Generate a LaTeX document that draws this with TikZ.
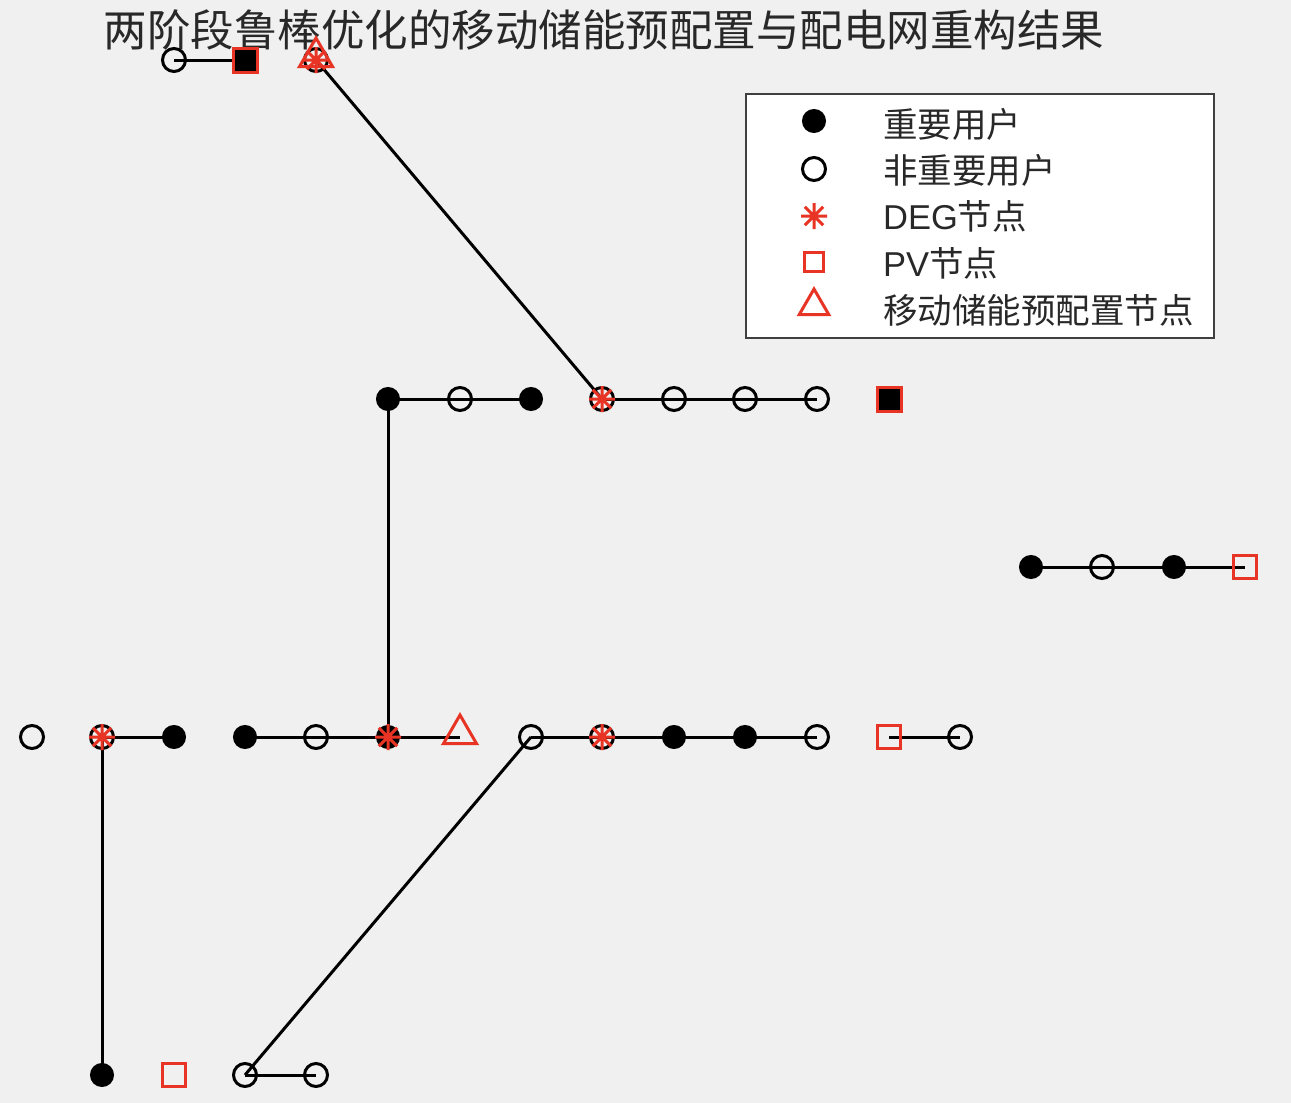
\documentclass[tikz,border=0pt]{standalone}
\usepackage{fontspec}
\setmainfont{Liberation Sans}
\newfontfamily\cjk{Noto Sans CJK SC}
\newfontfamily\lat{Liberation Sans}
\usetikzlibrary{shapes.geometric,backgrounds}
\definecolor{mred}{RGB}{232,52,36}
\definecolor{bggray}{RGB}{240,240,240}
\definecolor{txtgray}{RGB}{40,40,40}
\tikzset{
  base/.style={inner sep=0pt, outer sep=0pt, line width=3pt},
  imp/.style={base, circle, fill=black, draw=black, minimum size=21pt},
  nimp/.style={base, circle, draw=black, minimum size=23pt},
  pvbox/.style={base, rectangle, draw=mred, minimum size=23pt},
  pvfill/.style={base, rectangle, draw=mred, fill=black, minimum size=24pt},
  essbox/.style={base, regular polygon, regular polygon sides=3, draw=mred, minimum size=38pt},
  conn/.style={line width=3pt, black},
  degmark/.pic={\draw[mred, line width=3pt] (-13,0)--(13,0) (0,-13)--(0,13) (-9.2,-9.2)--(9.2,9.2) (-9.2,9.2)--(9.2,-9.2);},
  legtext/.style={anchor=west, inner sep=0pt, font=\fontsize{34.5}{34.5}\selectfont, text=txtgray}
}
\begin{document}
\begin{tikzpicture}[x=1pt,y=-1pt]
\begin{scope}[on background layer]
  \fill[bggray] (0,0) rectangle (1291,1103);
\end{scope}
\useasboundingbox (0,0) rectangle (1291,1103);

% title
\node[inner sep=0pt, text=txtgray, font=\cjk\fontsize{43.5}{43.5}\selectfont] (title) at (604,30) {两阶段鲁棒优化的移动储能预配置与配电网重构结果};

% row A
\node[nimp] (a1) at (174,60) {};
\node[pvfill] (a2) at (245,60) {};
\node[nimp] (a3) at (316,60) {};
\node[essbox] (a3e) at (316,57) {};
\pic at (a3) {degmark};

% row B
\node[imp] (b1) at (388,399) {};
\node[nimp] (b2) at (460,399) {};
\node[imp] (b3) at (531,399) {};
\node[nimp] (b4) at (602,399) {};
\pic at (b4) {degmark};
\node[nimp] (b5) at (674,399) {};
\node[nimp] (b6) at (745,399) {};
\node[nimp] (b7) at (817,399) {};
\node[pvfill] (b8) at (889,399) {};

% row C
\node[imp] (c1) at (1031,567) {};
\node[nimp] (c2) at (1102,567) {};
\node[imp] (c3) at (1174,567) {};
\node[pvbox] (c4) at (1245,567) {};

% row D
\node[nimp] (d1) at (32,737) {};
\node[nimp] (d2) at (102,737) {};
\pic at (d2) {degmark};
\node[imp] (d3) at (174,737) {};
\node[imp] (d4) at (245,737) {};
\node[nimp] (d5) at (316,737) {};
\node[imp] (d6) at (388,737) {};
\pic at (d6) {degmark};
\node[essbox] (d7) at (460,734) {};
\node[nimp] (d8) at (531,737) {};
\node[nimp] (d9) at (602,737) {};
\pic at (d9) {degmark};
\node[imp] (d10) at (674,737) {};
\node[imp] (d11) at (745,737) {};
\node[nimp] (d12) at (817,737) {};
\node[pvbox] (d13) at (889,737) {};
\node[nimp] (d14) at (960,737) {};

% row E
\node[imp] (e1) at (102,1075) {};
\node[pvbox] (e2) at (174,1075) {};
\node[nimp] (e3) at (245,1075) {};
\node[nimp] (e4) at (316,1075) {};

% connectors
\begin{scope}[on background layer]
  \draw[conn] (a1.center) -- (a2.center);
  \draw[conn] (a3.center) -- (b4.center);
  \draw[conn] (b1.center) -- (b2.center) -- (b3.center);
  \draw[conn] (b4.center) -- (b5.center) -- (b6.center) -- (b7.center);
  \draw[conn] (b1.center) -- (d6.center);
  \draw[conn] (c1.center) -- (c2.center) -- (c3.center) -- (c4.center);
  \draw[conn] (d2.center) -- (d3.center);
  \draw[conn] (d4.center) -- (d5.center) -- (d6.center) -- (d7.center |- d6.center);
  \draw[conn] (d8.center) -- (d9.center) -- (d10.center) -- (d11.center) -- (d12.center);
  \draw[conn] (d13.center) -- (d14.center);
  \draw[conn] (d2.center) -- (e1.center);
  \draw[conn] (d8.center) -- (e3.center);
  \draw[conn] (e3.center) -- (e4.center);
\end{scope}

% legend
\node[draw=black!75, line width=1.8pt, fill=white, minimum width=468pt, minimum height=244pt, inner sep=0pt, anchor=north west] (leg) at (745,93) {};
\node[imp] (l1) at (814,121) {};
\node[nimp] (l2) at (814,169) {};
\pic at (814,216) {degmark};
\coordinate (l3) at (814,216);
\node[base, rectangle, draw=mred, minimum size=19pt] (l4) at (814,262) {};
\node[essbox, minimum size=34pt] (l5) at (814,306) {};
\node[legtext] (t1) at (883,124) {\cjk 重要用户};
\node[legtext] (t2) at (883,170) {\cjk 非重要用户};
\node[legtext] (t3) at (883,216) {\lat DEG\cjk 节点};
\node[legtext] (t4) at (883,263) {\lat PV\cjk 节点};
\node[legtext] (t5) at (883,310) {\cjk 移动储能预配置节点};
\end{tikzpicture}
\end{document}
